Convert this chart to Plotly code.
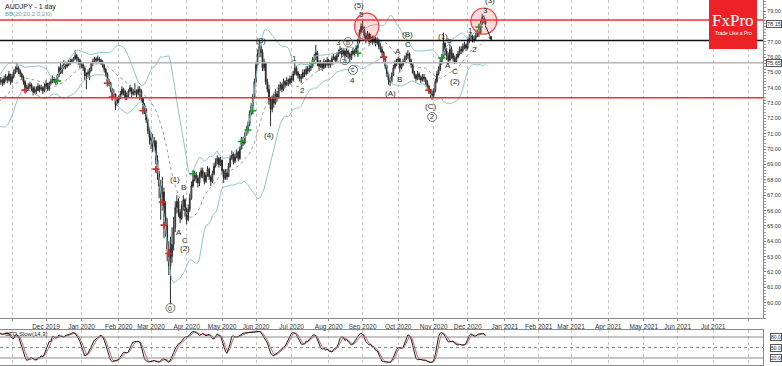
import numpy as np
import pandas as pd
import plotly.graph_objects as go

# ---------------- DATA ----------------
start_date = "2019-09-25"      # first (hidden) bar, used to warm up the indicators
first_visible = "2019-10-23"   # first bar on screen
open_first = 72.8

close = [
    72.9,73.0,73.1,72.9,72.5,72.1,72.0,72.2,72.3,72.0,72.4,73.0,73.6,73.5,74.0,73.6,74.0,74.3,74.6,74.4,
    74.5,74.3,74.6,74.7,74.5,74.9,74.4,74.7,75.0,75.2,75.3,75.1,74.9,74.7,74.4,74.0,73.9,74.1,74.2,74.0,73.7,73.9,73.8,74.1,73.9,74.0,73.8,74.1,
    74.3,73.9,74.3,74.4,74.6,74.5,74.4,74.8,75.3,75.0,75.3,75.6,75.4,75.5,75.6,75.7,75.8,75.9,76.1,75.9,75.8,75.6,
    75.5,75.3,74.8,74.9,75.0,75.1,75.6,75.7,75.9,75.8,75.9,75.8,75.7,75.5,75.2,74.9,74.4,74.3,73.9,73.5,73.6,72.9,73.2,
    73.3,73.6,73.9,73.8,73.4,73.5,73.8,74.0,73.6,73.7,73.8,73.6,73.9,73.8,73.3,72.9,72.6,71.9,71.2,70.8,70.6,70.2,70.5,
    69.3,68.4,67.6,66.9,67.2,65.6,65.0,63.5,62.4,63.0,63.8,64.9,66.2,66.6,65.9,65.5,66.3,66.7,66.0,65.4,66.1,66.8,67.6,68.0,68.3,68.1,67.8,
    68.2,68.6,68.4,67.9,68.3,68.7,68.2,67.9,68.4,68.9,69.2,69.4,69.0,69.3,68.6,68.1,68.5,68.2,68.9,69.4,69.7,69.2,69.5,69.8,69.4,70.0,
    70.6,70.4,70.9,71.3,71.6,72.3,72.8,73.4,74.4,75.5,76.2,76.7,76.3,75.3,75.6,74.4,73.9,73.2,72.6,73.3,73.0,73.6,73.4,74.0,
    74.2,73.9,74.4,74.2,74.5,74.3,74.6,74.5,74.9,75.3,75.0,74.8,74.6,74.7,75.0,74.9,75.2,75.1,75.3,75.4,75.8,75.9,76.3,75.6,75.4,75.6,75.3,
    75.7,75.5,75.8,75.5,75.6,75.9,76.0,75.8,76.1,76.3,76.5,76.2,76.4,76.1,76.4,76.2,75.9,76.2,76.4,76.3,76.6,77.0,77.6,78.0,77.9,
    77.4,77.2,77.5,77.0,77.3,77.0,77.2,76.9,77.1,76.7,76.5,76.3,75.9,75.4,74.9,74.5,74.4,74.8,75.3,75.6,75.7,75.9,75.3,75.5,75.7,75.9,76.1,76.2,
    75.8,75.5,75.0,74.8,74.6,74.9,74.7,74.5,74.7,74.6,74.4,74.1,73.8,73.6,73.5,73.8,74.4,74.9,75.2,75.7,76.0,76.9,76.4,76.1,75.8,76.5,76.2,75.9,75.7,
    76.0,76.2,76.5,76.4,76.7,76.8,76.6,77.0,77.3,77.4,77.1,77.2,77.4,77.6,77.5,78.2,78.6,78.4,78.15,
]
high = [
    73.2,73.2,73.3,73.2,73.0,72.6,72.3,72.4,72.6,72.4,72.6,73.2,73.8,73.9,74.2,74.1,74.2,74.5,74.8,74.7,
    74.7,74.6,74.8,74.9,74.8,75.1,74.9,74.9,75.2,75.4,75.6,75.4,75.2,75.0,74.8,74.5,74.2,74.3,74.4,74.3,74.1,74.1,74.1,74.3,74.2,74.2,74.1,74.3,
    74.5,74.3,74.4,74.6,74.8,74.7,74.6,74.9,75.4,75.7,75.5,75.8,75.7,75.7,75.8,75.9,75.9,76.0,76.45,76.2,76.0,75.9,
    75.7,75.6,75.3,75.0,75.2,75.3,75.7,75.9,76.0,76.0,76.1,76.0,75.9,75.8,75.5,75.3,75.0,74.6,74.4,74.0,73.9,73.6,73.4,
    73.5,73.8,74.1,74.0,73.8,73.7,73.9,74.2,74.0,73.9,74.3,73.9,74.1,74.1,73.9,73.4,73.0,72.7,72.0,71.4,71.1,71.0,70.8,
    70.6,69.6,68.6,68.0,68.2,67.5,66.6,65.5,64.0,64.3,64.9,65.6,66.6,67.0,66.8,66.1,66.6,67.0,66.8,66.2,66.4,67.1,67.9,68.4,68.6,68.5,68.3,
    68.5,68.8,68.8,68.5,68.5,68.9,68.8,68.3,68.6,69.1,69.4,69.6,69.5,69.5,69.3,68.7,68.7,68.7,69.1,69.6,69.9,69.8,69.7,70.0,69.9,70.2,
    70.8,70.8,71.1,71.5,71.8,72.5,73.0,73.6,74.6,75.7,76.5,77.15,76.9,76.5,75.9,75.7,74.6,74.2,73.4,73.5,73.6,73.9,73.8,74.2,
    74.4,74.3,74.6,74.5,74.7,74.6,74.8,74.8,75.1,75.6,75.4,75.1,74.9,74.9,75.2,75.2,75.4,75.4,75.5,75.6,76.0,76.2,76.8,76.4,75.8,75.8,75.7,
    75.9,75.8,76.0,75.9,75.8,76.1,76.2,76.1,76.3,76.5,76.7,76.6,76.6,76.5,76.6,76.5,76.3,76.4,76.6,76.5,76.8,77.2,77.8,78.2,78.45,
    78.0,77.6,77.7,77.6,77.5,77.4,77.4,77.3,77.3,77.2,76.9,76.7,76.4,76.0,75.5,75.0,74.7,75.0,75.5,75.8,75.9,76.0,75.9,75.7,75.9,76.1,76.3,76.45,
    76.3,75.9,75.6,75.1,74.9,75.1,75.0,74.8,74.9,74.9,74.7,74.5,74.2,73.9,73.8,74.0,74.6,75.1,75.4,75.9,76.2,77.6,77.0,76.6,76.3,76.9,76.7,76.3,76.1,
    76.2,76.4,76.7,76.7,76.9,77.0,76.9,77.2,77.5,77.6,77.4,77.4,77.6,77.8,77.7,78.4,78.8,78.7,78.5,
]
low = [
    72.6,72.7,72.8,72.7,72.4,71.9,71.7,71.9,72.0,71.8,71.9,72.3,72.9,73.3,73.4,73.4,73.5,73.9,74.2,74.2,
    74.2,74.1,74.2,74.4,74.3,74.4,74.2,74.3,74.6,74.9,75.0,74.9,74.7,74.5,74.2,73.8,73.7,73.8,73.9,73.8,73.5,73.6,73.6,73.8,73.7,73.8,73.6,73.7,
    73.9,73.8,73.8,74.2,74.3,74.3,74.2,74.3,74.7,74.9,74.9,75.2,75.2,75.3,75.4,75.5,75.6,75.7,75.8,75.7,75.5,75.3,
    75.3,75.1,74.5,73.9,74.7,74.5,75.1,75.4,75.6,75.6,75.7,75.6,75.5,75.3,75.0,74.7,74.2,74.1,73.7,73.2,73.3,72.55,72.8,
    73.0,73.3,73.5,73.5,73.2,73.2,73.4,73.7,73.4,73.5,73.5,73.4,73.5,73.2,73.1,72.6,72.3,71.7,71.0,70.3,70.0,69.8,69.9,
    69.0,68.0,66.8,65.4,66.0,64.2,64.3,62.7,61.8,59.9,62.6,63.4,64.6,65.8,65.6,65.2,65.4,66.0,65.6,65.1,65.3,65.9,66.7,67.5,67.9,67.8,67.5,
    67.6,68.1,68.1,67.7,67.8,68.2,68.0,67.6,67.8,68.3,68.8,69.0,68.8,68.9,68.4,67.8,68.0,68.0,68.2,68.8,69.3,69.0,69.1,69.4,69.2,69.3,
    70.0,70.2,70.3,70.9,71.2,71.5,72.2,72.7,73.3,74.3,75.4,76.0,76.0,75.1,75.1,74.2,73.7,72.9,71.5,72.4,72.7,72.9,73.1,73.3,
    73.8,73.7,73.8,74.0,74.1,74.1,74.2,74.3,74.4,74.8,74.8,74.6,74.4,74.3,74.6,74.7,74.8,74.9,75.0,75.1,75.3,75.6,75.8,75.4,75.1,75.3,75.1,
    75.2,75.3,75.4,75.3,75.3,75.5,75.8,75.6,75.7,76.0,76.2,76.0,76.1,75.9,76.0,75.9,75.6,75.8,76.1,76.1,76.2,76.5,76.9,77.5,77.6,
    77.2,76.9,77.1,76.8,76.9,76.8,76.9,76.7,76.8,76.5,76.3,76.0,75.7,75.2,74.7,74.2,74.1,74.3,74.8,75.2,75.4,75.5,75.0,75.2,75.4,75.6,75.8,75.9,
    75.6,75.3,74.9,74.6,74.4,74.5,74.5,74.3,74.4,74.4,74.2,73.9,73.6,73.4,73.2,73.4,73.7,74.3,74.8,75.1,75.5,75.9,76.1,75.8,75.55,75.7,75.9,75.7,75.55,
    75.6,75.9,76.1,76.2,76.3,76.5,76.4,76.5,76.9,77.1,76.95,76.95,77.1,77.3,77.3,77.5,78.1,78.2,78.05,
]

# horizontal levels drawn on the chart
level_red_top = 78.41
level_black = 77.08
level_grey = 75.63
level_red_bottom = 73.35
last_price = 78.15

# month tick positions: first trading day of each month
month_ticks = pd.date_range("2019-11-01", "2021-08-31", freq="BMS")
month_labels = [""] + [d.strftime("%b %Y") for d in month_ticks[1:-1]] + [""]
price_ticks = list(range(60, 80))
price_labels = ["" if v == 78 else f"{v:.2f}" for v in price_ticks]

# signal marks (bar index counted from first visible bar, price)
red_idx = [15, 66, 69, 88, 96, 100, 101, 104, 237, 265]
red_price = [73.85, 74.3, 73.4, 72.5, 68.7, 66.55, 65.05, 63.2, 76.0, 73.85]
green_idx = [35, 119, 149, 153, 156, 193, 221, 273, 296]
green_price = [74.45, 68.4, 70.5, 71.25, 72.5, 75.6, 76.25, 75.95, 77.95]

# Elliott wave labels (bar index, price, text)
wave_idx = [108, 113, 110, 114, 114, 161, 166, 182, 187, 209, 218, 223, 222,
            241, 246, 247, 252, 252, 266, 274, 278, 277, 281, 281, 291, 293, 300, 303]
wave_price = [68.0, 67.5, 64.6, 64.08, 63.5, 77.11, 70.9, 75.94, 73.85, 76.98, 74.5, 78.8, 79.39,
              73.66, 76.39, 74.57, 76.85, 77.5, 72.75, 77.37, 77.05, 75.42, 75.09, 74.44, 77.76, 76.52, 79.05, 79.66]
wave_text = ["(1)", "B", "A", "C", "(2)", "(3)", "(4)", "1", "2", "3", "4", "5", "(5)",
             "(A)", "A", "B", "C", "(B)", "(C)", "(1)", "b", "A", "C", "(2)", "1", "2", "3", "(3)"]
circ_idx = [213, 215, 218, 267, 105]
circ_price = [75.8, 76.98, 75.16, 72.1, 59.65]
circ_text = ["a", "b", "c", "2", "0"]

# ---------------- DERIVED ----------------
n = len(close)
assert len(high) == n and len(low) == n
dates = pd.bdate_range(start_date, periods=n)
opens = [open_first] + close[:-1]
hi = [max(h, o, c) for h, o, c in zip(high, opens, close)]
lo = [min(l, o, c) for l, o, c in zip(low, opens, close)]

s = pd.Series(close, dtype=float)
mid = s.rolling(20).mean()
sd = s.rolling(20).std(ddof=0)
bb_up = mid + 2 * sd
bb_dn = mid - 2 * sd

H = pd.Series(hi)
L = pd.Series(lo)
ll = L.rolling(14).min()
hh = H.rolling(14).max()
k = 100 * (s - ll).rolling(3).sum() / (hh - ll).rolling(3).sum()
dsig = k.rolling(3).mean()

t0 = pd.Timestamp(first_visible)


def bar(i):
    return t0 + pd.offsets.BDay(int(i))


W, HH = 782, 366
plot_right = 763 / W
main_dom = [1 - 318 / HH, 1.0]
sto_dom = [1 - 365 / HH, 1 - 330 / HH]
x_range = [t0 - pd.Timedelta(hours=12), bar(471) + pd.Timedelta(hours=20)]
rb = [dict(bounds=["sat", "mon"])]

fig = go.Figure()
fig.add_trace(go.Candlestick(
    x=dates, open=opens, high=hi, low=lo, close=close,
    increasing=dict(line=dict(color="#2a2a2a", width=1), fillcolor="#ffffff"),
    decreasing=dict(line=dict(color="#2a2a2a", width=1), fillcolor="#2a2a2a"),
    whiskerwidth=0, xaxis="x", yaxis="y", showlegend=False, hoverinfo="skip"))

vis = slice(19, n)
fig.add_trace(go.Scatter(x=dates[vis], y=bb_up[vis], mode="lines",
                         line=dict(color="#8ec6c8", width=1), xaxis="x", yaxis="y"))
fig.add_trace(go.Scatter(x=dates[vis], y=bb_dn[vis], mode="lines",
                         line=dict(color="#8ec6c8", width=1), xaxis="x", yaxis="y"))
fig.add_trace(go.Scatter(x=dates[vis], y=mid[vis], mode="lines",
                         line=dict(color="#9a9a9a", width=1, dash="dot"), xaxis="x", yaxis="y"))

fig.add_trace(go.Scatter(x=[bar(i) for i in red_idx], y=red_price, mode="markers",
                         marker=dict(symbol="cross-thin", size=5, line=dict(color="#d02a2a", width=1.6)),
                         xaxis="x", yaxis="y"))
fig.add_trace(go.Scatter(x=[bar(i) for i in green_idx], y=green_price, mode="markers",
                         marker=dict(symbol="cross-thin", size=5, line=dict(color="#1f9a2a", width=1.6)),
                         xaxis="x", yaxis="y"))

fig.add_trace(go.Scatter(x=dates, y=dsig, mode="lines", line=dict(color="#d06060", width=1),
                         xaxis="x2", yaxis="y2"))
fig.add_trace(go.Scatter(x=dates, y=k, mode="lines", line=dict(color="#1a1a1a", width=1),
                         xaxis="x2", yaxis="y2"))

shapes = []
for lv, col, w in [(level_red_top, "#ff2b2b", 1.5), (level_black, "#111111", 1.5),
                   (level_grey, "#b4b4b4", 1.5), (level_red_bottom, "#ff2b2b", 1.5)]:
    shapes.append(dict(type="line", xref="x domain", yref="y", x0=0, x1=1, y0=lv, y1=lv,
                       line=dict(color=col, width=w)))
for lv, dash in [(80, "solid"), (50, "dot"), (20, "solid")]:
    shapes.append(dict(type="line", xref="x2 domain", yref="y2", x0=0, x1=1, y0=lv, y1=lv,
                       line=dict(color="#8a8a8a", width=1, dash=dash)))
# red highlight circles
for (a, b, y0, y1) in [(219, 234, 77.11, 78.87), (291, 307, 77.5, 79.2)]:
    shapes.append(dict(type="circle", xref="x", yref="y", x0=bar(a), x1=bar(b), y0=y0, y1=y1,
                       fillcolor="rgba(255,70,70,0.2)", line=dict(color="#ff3b3b", width=1.2)))
# circled wave labels
for i, p in zip(circ_idx, circ_price):
    shapes.append(dict(type="circle", xref="x", yref="y", xsizemode="pixel", ysizemode="pixel",
                       xanchor=bar(i), yanchor=p, x0=-4.5, x1=4.5, y0=-4.5, y1=4.5,
                       line=dict(color="#555555", width=0.8)))
# FxPro logo box
shapes.append(dict(type="rect", xref="paper", yref="paper", x0=709 / W, x1=757 / W,
                   y0=1 - 49 / HH, y1=1, fillcolor="#ec2227", line=dict(width=0), layer="above"))

ann = []
lab_font = dict(family="Liberation Sans, Arial", size=8, color="#2a2a2a")
for i, p, t in zip(wave_idx, wave_price, wave_text):
    ann.append(dict(x=bar(i), y=p, xref="x", yref="y", text=t, showarrow=False, font=lab_font,
                    xanchor="center", yanchor="middle"))
for i, p, t in zip(circ_idx, circ_price, circ_text):
    ann.append(dict(x=bar(i), y=p, xref="x", yref="y", text=t, showarrow=False,
                    xanchor="center", yanchor="middle",
                    font=dict(family="Liberation Sans, Arial", size=7, color="#2a2a2a")))
# arrow from last bar to the black level
ann.append(dict(x=bar(304), y=level_black, xref="x", yref="y", ax=-7, ay=-16, text="",
                showarrow=True, arrowhead=2, arrowsize=0.8, arrowwidth=1, arrowcolor="#222222"))
# titles
ann.append(dict(x=3 / W, y=1 - 1 / HH, xref="paper", yref="paper", xanchor="left", yanchor="top",
                text="AUDJPY - 1 day", showarrow=False,
                font=dict(family="Liberation Sans, Arial", size=7, color="#1a1a1a")))
ann.append(dict(x=3 / W, y=1 - 9 / HH, xref="paper", yref="paper", xanchor="left", yanchor="top",
                text="BB(20,20,2.0,2.0)", showarrow=False,
                font=dict(family="Liberation Sans, Arial", size=6, color="#5aa9ae")))
ann.append(dict(x=3 / W, y=1 - 329 / HH, xref="paper", yref="paper", xanchor="left", yanchor="top",
                text="STO Slow(14,3)", showarrow=False,
                font=dict(family="Liberation Sans, Arial", size=6, color="#1a1a1a")))
# logo text
ann.append(dict(x=733 / W, y=1 - 21 / HH, xref="paper", yref="paper", text="FxPro", showarrow=False,
                xanchor="center", yanchor="middle",
                font=dict(family="Liberation Serif, DejaVu Serif", size=17, color="#ffffff")))
ann.append(dict(x=733 / W, y=1 - 33 / HH, xref="paper", yref="paper", text="Trade Like a Pro",
                showarrow=False, xanchor="center", yanchor="middle",
                font=dict(family="Liberation Sans, Arial", size=5, color="#ffffff")))
# price boxes on the right axis
for p, t in [(last_price, "78.15"), (level_grey, "75.65")]:
    ann.append(dict(x=1.0, y=p, xref="paper", yref="y", xanchor="right", yanchor="middle", text=t,
                    showarrow=False, bgcolor="#ffffff", bordercolor="#555555", borderwidth=1, borderpad=0,
                    font=dict(family="Liberation Sans, Arial", size=5.5, color="#222222")))
for p, t in [(80, "80.0"), (50, "50.0"), (20, "20.0")]:
    ann.append(dict(x=1.0, y=p, xref="paper", yref="y2", xanchor="right", yanchor="middle", text=t,
                    showarrow=False, bgcolor="#ffffff", bordercolor="#555555", borderwidth=1, borderpad=0,
                    font=dict(family="Liberation Sans, Arial", size=5, color="#222222")))

tick_font = dict(family="Liberation Sans, Arial", size=5.5, color="#333333")
fig.update_layout(
    width=W, height=HH, margin=dict(l=0, r=0, t=0, b=0),
    paper_bgcolor="white", plot_bgcolor="white", showlegend=False, hovermode=False,
    shapes=shapes, annotations=ann,
    xaxis=dict(domain=[0, plot_right], range=x_range, type="date", rangebreaks=rb,
               tickvals=list(month_ticks), ticktext=month_labels,
               tickfont=dict(family="Liberation Sans, Arial", size=6.5, color="#333333"),
               ticks="outside", ticklen=2, tickcolor="#888888",
               showgrid=True, gridcolor="#c4c4c4", griddash="dot", gridwidth=1,
               showline=True, linecolor="#8a8a8a", mirror=True, anchor="y",
               rangeslider=dict(visible=False), automargin=False),
    yaxis=dict(domain=main_dom, range=[59.0, 79.72], side="right", anchor="x",
               tickvals=price_ticks, ticktext=price_labels,
               tickfont=tick_font, ticks="outside", ticklen=2, tickcolor="#777777",
               minor=dict(dtick=0.2, ticks="outside", ticklen=1.5, tickcolor="#999999", showgrid=False),
               showgrid=False, zeroline=False, showline=True, linecolor="#8a8a8a", mirror=True,
               automargin=False),
    xaxis2=dict(domain=[0, plot_right], matches="x", type="date", rangebreaks=rb, anchor="y2",
                showticklabels=False, ticks="", tickvals=list(month_ticks),
                showgrid=True, gridcolor="#c4c4c4", griddash="dot", gridwidth=1,
                showline=True, linecolor="#8a8a8a", mirror=True, automargin=False),
    yaxis2=dict(domain=sto_dom, range=[0, 100], side="right", anchor="x2",
                showticklabels=False, ticks="", showgrid=False, zeroline=False,
                showline=True, linecolor="#8a8a8a", mirror=True, automargin=False),
)

fig.write_html("out.html")
